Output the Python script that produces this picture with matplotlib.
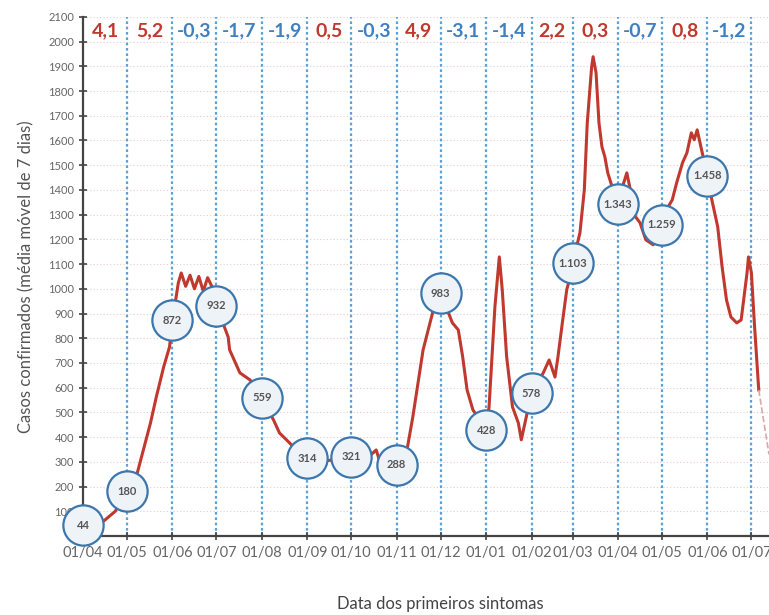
import pandas as pd
import matplotlib.pyplot as plt
import matplotlib.dates as mdates

# moving average curve
dates = ["2020-04-01", "2020-04-08", "2020-04-15", "2020-04-23", "2020-05-01",
         "2020-05-08", "2020-05-17", "2020-05-21", "2020-05-26", "2020-05-30",
         "2020-06-01", "2020-06-05", "2020-06-07", "2020-06-10", "2020-06-13",
         "2020-06-16", "2020-06-19", "2020-06-22", "2020-06-25", "2020-06-28",
         "2020-07-01", "2020-07-09", "2020-07-10", "2020-07-17", "2020-07-24",
         "2020-08-01", "2020-08-09", "2020-08-13", "2020-08-20", "2020-08-27",
         "2020-09-01", "2020-09-10", "2020-09-20", "2020-10-01", "2020-10-12",
         "2020-10-18", "2020-10-20", "2020-10-25", "2020-11-01", "2020-11-08",
         "2020-11-12", "2020-11-19", "2020-11-26", "2020-12-01", "2020-12-09",
         "2020-12-13", "2020-12-16", "2020-12-19", "2020-12-23", "2021-01-01",
         "2021-01-03", "2021-01-07", "2021-01-10", "2021-01-12", "2021-01-15",
         "2021-01-19", "2021-01-23", "2021-01-25", "2021-01-29", "2021-02-01",
         "2021-02-09", "2021-02-13", "2021-02-17", "2021-02-19", "2021-02-22",
         "2021-02-25", "2021-02-28", "2021-03-01", "2021-03-06", "2021-03-09",
         "2021-03-11", "2021-03-14", "2021-03-15", "2021-03-17", "2021-03-19",
         "2021-03-21", "2021-03-23", "2021-03-25", "2021-03-28", "2021-04-01",
         "2021-04-04", "2021-04-07", "2021-04-09", "2021-04-11", "2021-04-16",
         "2021-04-20", "2021-04-25", "2021-05-01", "2021-05-04", "2021-05-08",
         "2021-05-11", "2021-05-15", "2021-05-18", "2021-05-21", "2021-05-23",
         "2021-05-25", "2021-05-28", "2021-06-01", "2021-06-04", "2021-06-08",
         "2021-06-11", "2021-06-14", "2021-06-17", "2021-06-21", "2021-06-24",
         "2021-06-28", "2021-06-29", "2021-07-01", "2021-07-03", "2021-07-06"]
casos = [44, 53, 60, 100, 180,
         255, 457, 563, 684, 765,
         872, 1024, 1064, 1010, 1055,
         1000, 1050, 990, 1045, 1008,
         932, 805, 753, 660, 631,
         559, 469, 417, 376, 330,
         314, 300, 310, 321, 315,
         348, 310, 295, 288, 348,
         482, 753, 915, 983, 862,
         834, 725, 591, 510, 428,
         522, 927, 1129, 996, 725,
         522, 457, 389, 498, 578,
         660, 712, 643, 724, 862,
         996, 1064, 1103, 1226, 1400,
         1671, 1898, 1939, 1874, 1671,
         1575, 1534, 1469, 1412, 1343,
         1412, 1469, 1412, 1307, 1267,
         1198, 1178, 1259, 1319, 1360,
         1429, 1510, 1550, 1631, 1603,
         1643, 1562, 1458, 1360, 1251,
         1089, 955, 886, 862, 874,
         1064, 1129, 1064, 862, 591]

# incomplete tail (dashed)
tail_dates = ["2021-07-06", "2021-07-13"]
tail_casos = [591, 330]

# values marked on the first day of each month
mes_datas = ["2020-04-01", "2020-05-01", "2020-06-01", "2020-07-01", "2020-08-01",
             "2020-09-01", "2020-10-01", "2020-11-01", "2020-12-01", "2021-01-01",
             "2021-02-01", "2021-03-01", "2021-04-01", "2021-05-01", "2021-06-01"]
mes_valores = [44, 180, 872, 932, 559, 314, 321, 288, 983, 428, 578, 1103, 1343, 1259, 1458]

# monthly variation shown on top
variacao = [4.1, 5.2, -0.3, -1.7, -1.9, 0.5, -0.3, 4.9, -3.1, -1.4, 2.2, 0.3, -0.7, 0.8, -1.2]

df = pd.DataFrame({"data": pd.to_datetime(dates), "casos": casos})
marcos = pd.DataFrame({"data": pd.to_datetime(mes_datas), "valor": mes_valores})
ticks = pd.date_range("2020-04-01", "2021-07-01", freq="MS")

plt.rcParams['font.family'] = ['Lato', 'DejaVu Sans']
fig = plt.figure(figsize=(7.69, 6.15), dpi=100)
ax = fig.add_axes([0.108, 0.1285, 0.892, 0.844])

vermelho = '#c0392f'
azul = '#3f80c0'

for y in range(100, 2101, 100):
    ax.axhline(y, color='#e3ccd6', lw=0.8, ls=(0, (1, 2)), zorder=0)
for t in ticks[1:]:
    ax.axvline(t, color='#5aa2dc', lw=1.6, ls=(0, (1.2, 1.2)), zorder=1)

ax.plot(df["data"], df["casos"], color=vermelho, lw=2.2, zorder=3)
ax.plot(pd.to_datetime(tail_dates), tail_casos, color='#d8a8a8', lw=1.2, ls='--', zorder=3)

ax.plot(marcos["data"], marcos["valor"], 'o', ms=29, mfc='#eef3f8', mec='#3b76ad',
        mew=1.6, zorder=4, clip_on=False)
for d, v in zip(marcos["data"], marcos["valor"]):
    txt = f"{v:,}".replace(",", ".")
    ax.text(d, v, txt, ha='center', va='center', fontsize=8, fontweight='bold',
            color='#555555', zorder=5)

for i, g in enumerate(variacao):
    meio = ticks[i] + (ticks[i + 1] - ticks[i]) / 2
    cor = vermelho if g > 0 else azul
    ax.text(meio, 2045, f"{g:.1f}".replace(".", ","), ha='center', va='center',
            fontsize=14, fontweight='bold', color=cor, zorder=5)

ax.set_xlim(pd.Timestamp("2020-04-01"), pd.Timestamp("2021-07-13"))
ax.set_ylim(0, 2100)
ax.set_yticks(range(0, 2101, 100))
ax.set_xticks(ticks)
ax.xaxis.set_major_formatter(mdates.DateFormatter('%d/%m'))
ax.tick_params(axis='y', labelsize=8, direction='inout', length=6, width=1.2, colors='#444444')
ax.tick_params(axis='x', labelsize=10.5, direction='inout', length=6, width=1.2, pad=4, colors='#444444')
for lab in ax.get_xticklabels() + ax.get_yticklabels():
    lab.set_color('#666666')
for s in ['top', 'right']:
    ax.spines[s].set_visible(False)
for s in ['left', 'bottom']:
    ax.spines[s].set_color('#444444')
    ax.spines[s].set_linewidth(1.6)

ax.set_ylabel("Casos confirmados (média móvel de 7 dias)", fontsize=12, color='#555555', labelpad=10)
fig.text(0.572, 0.005, "Data dos primeiros sintomas", ha='center', va='bottom',
         fontsize=12, color='#444444')

plt.savefig("out.png", dpi=100)
